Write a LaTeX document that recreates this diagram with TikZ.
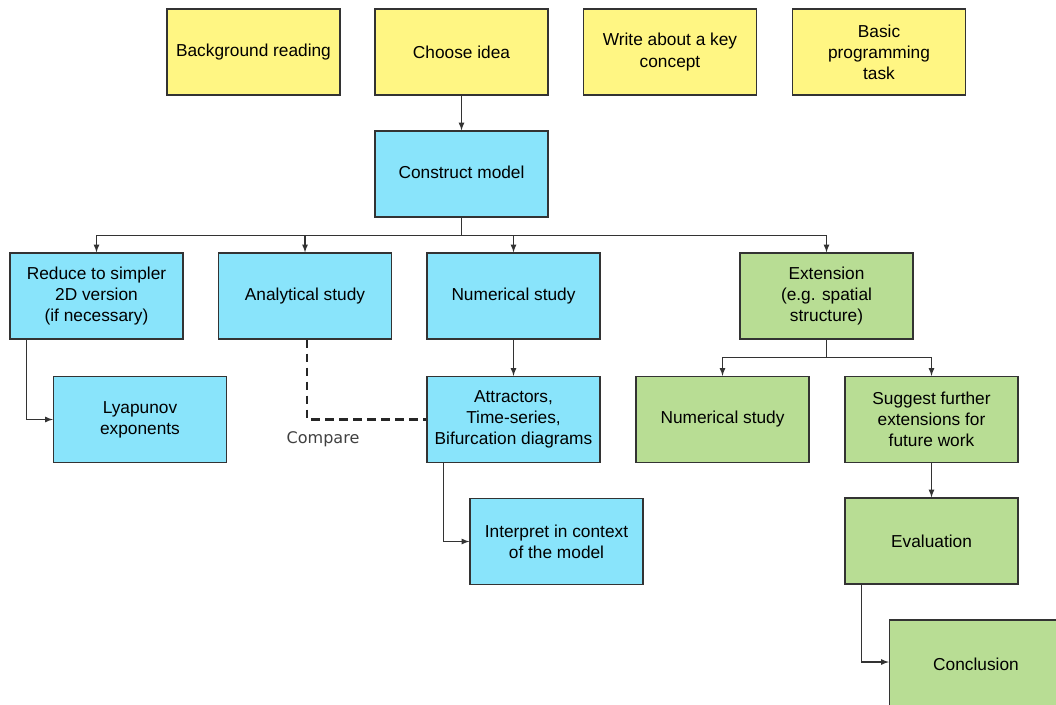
\documentclass[tikz,border=0pt]{standalone}
\usepackage{fontspec}
\setmainfont{Liberation Sans}
\newfontfamily\comparefont{DejaVu Sans}
\usetikzlibrary{calc}
\definecolor{jaune}{HTML}{FFF683}
\definecolor{bleu}{HTML}{89E4FB}
\definecolor{vert}{HTML}{B8DD94}
\begin{document}
\begin{tikzpicture}[x=0.025cm,y=-0.025cm]
	% Styles
	\tikzstyle{boite}=[draw=black!80,line width=0.9pt,minimum width=4.325cm,minimum height=2.15cm,inner sep=0pt,align=center,font=\fontsize{12.3}{15}\selectfont]
	\tikzstyle{tache}=[boite,fill=jaune]
	\tikzstyle{modele}=[boite,fill=bleu]
	\tikzstyle{extension}=[boite,fill=vert]
	\tikzstyle{fleche}=[->,>=latex,line width=0.9pt,draw=black!80]
	\tikzstyle{trait}=[-,line width=0.9pt,draw=black!80]
	\tikzstyle{pointille}=[-,line width=1.5pt,draw=black!85,dash pattern=on 0.22cm off 0.13cm]
	\tikzstyle{etiquette}=[font=\comparefont\fontsize{11.4}{13}\selectfont,text=black!75]
	% Cadre
	\useasboundingbox (0,0) rectangle (1056,704);
	% Noeuds
	\node[tache] (lecture) at (253.5,52) {Background reading};
	\node[tache] (idee) at (461.5,52) {Choose idea};
	\node[tache] (concept) at (670,52) {Write about a key\\concept};
	\node[tache] (prog) at (879,52) {Basic\\programming\\task};
	\node[modele] (modele) at (461.5,174) {\raisebox{0.08cm}{Construct model}};
	\node[modele] (reduire) at (96.5,296) {Reduce to simpler\\2D version\\(if necessary)};
	\node[modele] (analyse) at (305,296) {Analytical study};
	\node[modele] (numerique) at (513.5,296) {Numerical study};
	\node[extension] (ext) at (826.5,296) {Extension\\(e.g. spatial\\structure)};
	\node[modele] (lyap) at (140,419.5) {Lyapunov\\exponents};
	\node[modele] (attract) at (513.5,419.5) {Attractors,\\Time-series,\\Bifurcation diagrams};
	\node[extension] (numext) at (722.5,419.5) {Numerical study};
	\node[extension] (suite) at (931.5,419.5) {Suggest further\\extensions for\\future work};
	\node[modele] (interp) at (556.5,541.5) {Interpret in context\\of the model};
	\node[extension] (eval) at (931.5,541) {Evaluation};
	\node[extension,minimum height=2.3cm] (concl) at (976,666) {\raisebox{0.1cm}{Conclusion}};
	% Arcs
	\draw[fleche] (idee)--(modele);
	\draw[trait] (modele.south)--++(0,18) coordinate (M);
	\draw[fleche] (M)-|(reduire.north);
	\draw[fleche] (M)-|(analyse.north);
	\draw[fleche] (M)-|(numerique.north);
	\draw[fleche] (M)-|(ext.north);
	\draw[fleche] ($(reduire.south west)+(17,0)$)|-(lyap.west);
	\draw[pointille] ($(analyse.south)+(2,0)$)|-(attract.west) node[etiquette,pos=0.5,xshift=0.4cm,yshift=-0.5cm] {Compare};
	\draw[fleche] (numerique)--(attract);
	\draw[fleche] ($(attract.south west)+(17,0)$)|-(interp.west);
	\draw[trait] (ext.south)--++(0,18) coordinate (E);
	\draw[fleche] (E)-|(numext.north);
	\draw[fleche] (E)-|(suite.north);
	\draw[fleche] (suite)--(eval);
	\draw[fleche] ($(eval.south west)+(17,0)$)|-([yshift=0.1cm]concl.west);
\end{tikzpicture}
\end{document}
